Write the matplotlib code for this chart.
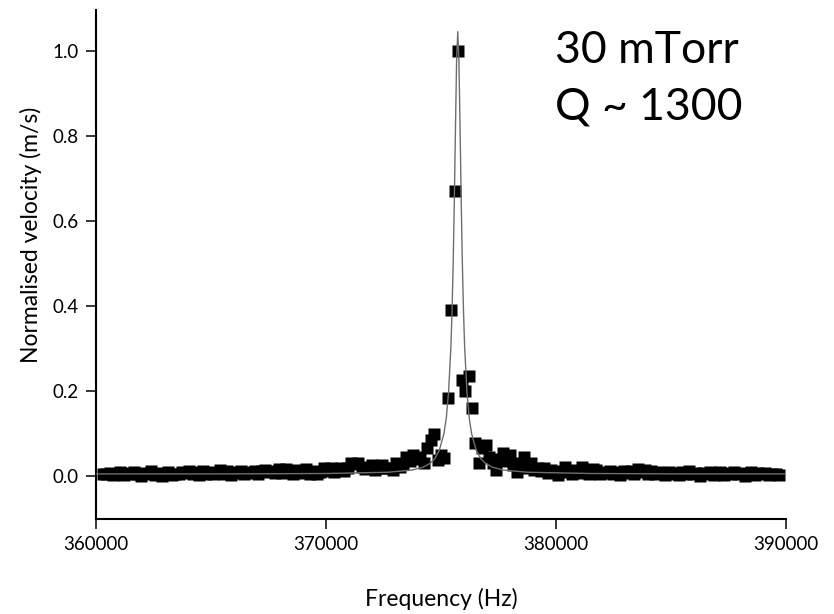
import numpy as np
import matplotlib.pyplot as plt

# frequency sweep (Hz)
f_start = 360300
f_stop = 389701
f_step = 150

# measured normalised velocity, one value per sweep step
velocity = [
    0.006, 0.004, 0.008, 0.002, 0.006, 0.009, 0.003, 0.007, 0.005, 0.010,
    0.004, 0.001, 0.008, 0.006, 0.011, 0.003, 0.007, 0.000, 0.005, 0.009,
    0.002, 0.006, 0.004, 0.010, 0.007, 0.013, 0.005, 0.009, 0.003, 0.012,
    0.006, 0.010, 0.004, 0.008, 0.014, 0.006, 0.011, 0.002, 0.009, 0.007,
    0.012, 0.005, 0.010, 0.008, 0.013, 0.006, 0.011, 0.015, 0.009, 0.013,
    0.007, 0.016, 0.008, 0.016, 0.010, 0.004, 0.015, 0.012, 0.008, 0.016,
    0.005, 0.012, 0.006, 0.010, 0.020, 0.012, 0.018, 0.010, 0.015, 0.020,
    0.012, 0.018, 0.030, 0.028, 0.030, 0.022, 0.016, 0.020, 0.026, 0.015,
    0.020, 0.025, 0.018, 0.020, 0.014, 0.030, 0.022, 0.028, 0.045, 0.035,
    0.050, 0.040, 0.045, 0.030, 0.065, 0.085, 0.100, 0.038, 0.050, 0.042,
    0.184, 0.390, 0.671, 1.000, 0.227, 0.200, 0.235, 0.159, 0.077, 0.030,
    0.065, 0.073, 0.045, 0.030, 0.014, 0.040, 0.055, 0.035, 0.050, 0.025,
    0.010, 0.030, 0.045, 0.020, 0.030, 0.014, 0.020, 0.012, 0.018, 0.008,
    0.015, 0.010, 0.002, 0.012, 0.022, 0.010, 0.006, 0.015, 0.008, 0.022,
    0.012, 0.006, 0.016, 0.014, 0.004, 0.010, 0.007, 0.012, 0.006, 0.009,
    0.003, 0.011, 0.007, 0.013, 0.005, 0.016, 0.009, 0.014, 0.006, 0.012,
    0.004, 0.009, 0.007, 0.002, 0.010, 0.006, 0.008, 0.003, 0.009, 0.005,
    0.011, 0.004, 0.007, 0.001, 0.008, 0.005, 0.010, 0.003, 0.006, 0.009,
    0.002, 0.007, 0.004, 0.010, 0.005, 0.008, 0.001, 0.006, 0.009, 0.003,
    0.007, 0.004, 0.008, 0.002, 0.006, 0.005, 0.003,
]

# fitted resonance curve
fit_freq = [360000, 365000, 370000, 372700, 373730, 374230, 374530, 374730,
            374930, 375130, 375230, 375330, 375430, 375480, 375530, 375580,
            375630, 375680, 375730, 375780, 375830, 375880, 375930, 375980,
            376030, 376130, 376230, 376330, 376530, 376730, 376930, 377230,
            377730, 378760, 381500, 386000, 390000]
fit_val = [0.005, 0.005, 0.006, 0.009, 0.014, 0.021, 0.030, 0.041,
           0.061, 0.100, 0.136, 0.197, 0.303, 0.386, 0.498, 0.646,
           0.819, 0.978, 1.045, 0.978, 0.819, 0.646, 0.498, 0.386,
           0.303, 0.197, 0.136, 0.100, 0.061, 0.041, 0.030, 0.021,
           0.014, 0.009, 0.006, 0.005, 0.005]

x_ticks = [360000, 370000, 380000, 390000]
y_ticks = [0.0, 0.2, 0.4, 0.6, 0.8, 1.0]

plt.rcParams['font.family'] = ['Lato', 'DejaVu Sans']

freq = np.arange(f_start, f_stop, f_step)

fig = plt.figure(figsize=(8.34, 6.14), dpi=100)
ax = fig.add_axes([0.1151, 0.1547, 0.8273, 0.829])

ax.plot(freq, velocity, 's', color='black', ms=8.8, mec='none', zorder=2)
ax.plot(fit_freq, fit_val, '-', color='#6e6e6e', lw=1.0, zorder=3)

ax.set_xlim(360000, 390000)
ax.set_ylim(-0.101, 1.096)
ax.set_xticks(x_ticks)
ax.set_xticklabels([str(v) for v in x_ticks])
ax.set_yticks(y_ticks)
ax.set_yticklabels([f'{v:.1f}' for v in y_ticks])

for s in ['top', 'right']:
    ax.spines[s].set_visible(False)
for s in ['left', 'bottom']:
    ax.spines[s].set_linewidth(1.5)
ax.tick_params(axis='both', direction='out', length=7.5, width=1.1,
               labelsize=13.5, pad=5)

ax.set_xlabel('Frequency (Hz)', fontsize=16.5)
ax.xaxis.set_label_coords(0.5, -0.135)
ax.set_ylabel('Normalised velocity (m/s)', fontsize=16.5)
ax.yaxis.set_label_coords(-0.078, 0.558)

fig.text(0.6655, 0.897, '30 mTorr', fontsize=32, va='baseline', ha='left')
fig.text(0.6655, 0.805, 'Q ~ 1300', fontsize=32, va='baseline', ha='left')

fig.savefig('out.png', dpi=100)
